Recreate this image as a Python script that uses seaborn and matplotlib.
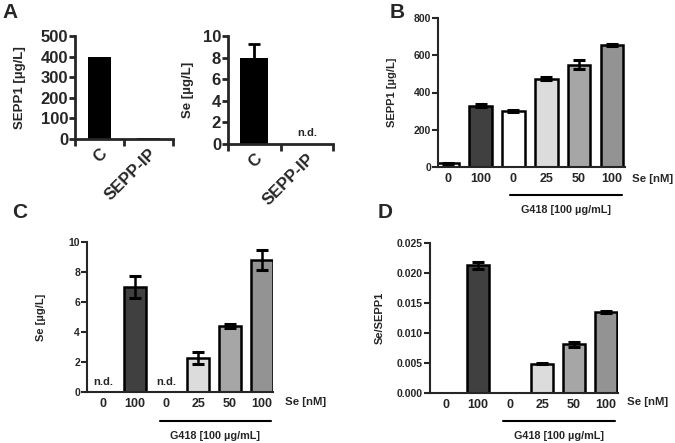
import matplotlib
matplotlib.use('Agg')
import matplotlib.pyplot as plt
import numpy as np
import pandas as pd
import seaborn as sns

# panel A
a_groups = ['C', 'SEPP-IP']
a_sepp = [400, 5]
a_se = [8.0, 0.0]
a_se_err = [1.3, 0.0]

# panels B-D
doses = ['0', '100', '0', '25', '50', '100']
groups = ['g0', 'g1', 'g2', 'g3', 'g4', 'g5']
bar_colors = ['#ffffff', '#404040', '#ffffff', '#dcdcdc', '#a6a6a6', '#939393']
b_sepp = [20, 330, 300, 475, 550, 655]
b_err = [4, 10, 6, 10, 25, 7]
c_se = [0, 7.0, 0, 2.3, 4.4, 8.8]
c_err = [0, 0.75, 0, 0.4, 0.15, 0.65]
c_nd = [True, False, True, False, False, False]
d_ratio = [0, 0.0213, 0, 0.0049, 0.0081, 0.0135]
d_err = [0, 0.0006, 0, 0.0001, 0.0004, 0.0002]

sns.set_style('white')
plt.rcParams['font.family'] = ['Liberation Sans', 'DejaVu Sans']
plt.rcParams['font.weight'] = 'bold'

W, H = 675, 443
fig = plt.figure(figsize=(W / 100, H / 100), dpi=100)


def px_axes(x0, y0, x1, y1):
    return fig.add_axes([x0 / W, 1 - y1 / H, (x1 - x0) / W, (y1 - y0) / H])


def style(ax, lw, fs, ylabel, lfs, lx, ly=0.5):
    sns.despine(ax=ax)
    ax.spines['left'].set_linewidth(lw)
    ax.spines['bottom'].set_linewidth(lw)
    ax.tick_params(axis='y', which='major', direction='out', length=4, width=lw,
                   labelsize=fs, pad=1, left=True)
    ax.set_xlabel('')
    ax.set_ylabel(ylabel, fontsize=lfs, fontweight='bold')
    ax.yaxis.set_label_coords(lx, ly)
    for t in ax.get_yticklabels():
        t.set_fontweight('bold')


def a_panel(box, vals, width, ylim, yticks, ylabel, lx):
    ax = px_axes(*box)
    df = pd.DataFrame({'g': a_groups, 'v': vals})
    sns.barplot(data=df, x='g', y='v', color='black', width=width, ax=ax,
                saturation=1, edgecolor='black', linewidth=0)
    ax.set_xlim(-0.5, 1.5)
    ax.set_ylim(*ylim)
    ax.set_yticks(yticks)
    style(ax, 2, 12, ylabel, 9.5, lx)
    ax.set_xticks([-0.5, 0.5, 1.5], minor=True)
    ax.tick_params(axis='x', which='minor', direction='out', length=5, width=2, bottom=True)
    ax.tick_params(axis='x', which='major', length=0, pad=5)
    ax.set_xticklabels(a_groups, rotation=45, ha='right', rotation_mode='anchor',
                       fontsize=12, fontweight='bold')
    return ax


# ---- A left
a_panel((75, 36, 173, 139), a_sepp, 0.45, (0, 500), [0, 100, 200, 300, 400, 500],
        'SEPP1 [µg/L]', -0.5)

# ---- A right
ax = a_panel((228, 36, 333, 144), a_se, 0.54, (0, 10), [0, 2, 4, 6, 8, 10],
             'Se [µg/L]', -0.32)
ax.errorbar([0], a_se[:1], yerr=a_se_err[:1], fmt='none', ecolor='black',
            elinewidth=2, capsize=4, capthick=2)
ax.text(1, 0.6, 'n.d.', ha='center', va='bottom', fontsize=8, fontweight='bold')


def dose_panel(box, vals, errs, ylim, yticks, ylabel, lx, xlim, width, line_px, lab_y):
    ax = px_axes(*box)
    df = pd.DataFrame({'g': groups, 'v': vals})
    sns.barplot(data=df, x='g', y='v', hue='g', palette=bar_colors, legend=False,
                width=width, ax=ax, saturation=1, edgecolor='black', linewidth=1.8)
    pos = [i for i, e in enumerate(errs) if e > 0]
    ax.errorbar(pos, [vals[i] for i in pos], yerr=[errs[i] for i in pos], fmt='none',
                ecolor='black', elinewidth=1.8, capsize=4.5, capthick=2.2, zorder=5)
    ax.set_xlim(*xlim)
    ax.set_ylim(*ylim)
    ax.set_yticks(yticks)
    style(ax, 1.5, 7.5, ylabel, 8, lx)
    ax.tick_params(axis='x', which='major', length=0, pad=4)
    ax.set_xticks(range(6))
    ax.set_xticklabels(doses, fontsize=9, fontweight='bold')
    x0, y0, x1, y1 = box
    bw = x1 - x0
    bh = y1 - y0
    ax.text((line_px[2] - x0) / bw, 1 - (line_px[3] - y0) / bh, 'Se [nM]',
            transform=ax.transAxes, ha='left', va='center', fontsize=8.2, fontweight='bold')
    lx0, lx1, ly = line_px[0], line_px[1], lab_y
    ax.plot([(lx0 - x0) / bw, (lx1 - x0) / bw], [1 - (ly - y0) / bh] * 2,
            transform=ax.transAxes, color='black', lw=1.5, clip_on=False)
    ax.text(((lx0 + lx1) / 2 - x0) / bw, 1 - (ly + 15 - y0) / bh, 'G418 [100 µg/mL]',
            transform=ax.transAxes, ha='center', va='center', fontsize=7.8,
            fontweight='bold')
    return ax


# ---- B
dose_panel((438, 18, 625, 167), b_sepp, b_err, (0, 800), [0, 200, 400, 600, 800],
           'SEPP1 [µg/L]', -0.22, (-0.3, 5.4), 0.69, (510, 622, 632, 179), 195)

# ---- C
ax = dose_panel((87, 242, 273, 392), c_se, c_err, (0, 10), [0, 2, 4, 6, 8, 10],
                'Se [µg/L]', -0.22, (-0.5, 5.35), 0.69, (160, 271, 285, 402), 421)
for i, nd in enumerate(c_nd):
    if nd:
        ax.text(i, 0.35, 'n.d.', ha='center', va='bottom', fontsize=8, fontweight='bold')

# ---- D
dose_panel((430, 243, 618, 393), d_ratio, d_err, (0, 0.025),
           [0, 0.005, 0.01, 0.015, 0.02, 0.025], 'Se/SEPP1', -0.24, (-0.5, 5.37), 0.69,
           (503, 615, 627, 402), 421)
fig.axes[-1].yaxis.set_major_formatter(matplotlib.ticker.FormatStrFormatter('%.3f'))

# panel letters
for letter, x, y in [('A', 10, 12), ('B', 397, 12), ('C', 20, 213), ('D', 385, 213)]:
    fig.text(x / W, 1 - y / H, letter, ha='center', va='center', fontsize=15,
             fontweight='bold')

fig.savefig('out.png', dpi=100)
